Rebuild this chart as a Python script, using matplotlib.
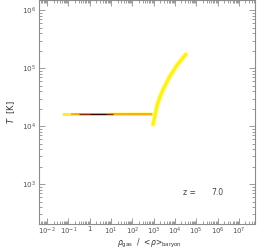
import numpy as np
import matplotlib
matplotlib.use('Agg')
import matplotlib.pyplot as plt
from matplotlib.ticker import LogLocator, NullFormatter

# isothermal plateau
T_plateau = 1.6e4
yellow_rho = [0.05, 1000]
orange_rho = [0.13, 1000]
dark_rho = [0.3, 12]
core_rho = [1.0, 6]
band_rho = [8, 1000]
band_lo = [1.6e4, 1.6e4]
band_hi = [1.78e4, 1.8e4]

# shocked / heated branch
branch_rho = [930, 1480, 2570, 5250, 13200, 32400]
branch_T = [1.07e4, 2.4e4, 4.07e4, 6.9e4, 1.17e5, 1.74e5]

redshift = 7.0

fig = plt.figure(figsize=(2.57, 2.49), dpi=100)
ax = fig.add_axes([0.152, 0.1, 0.84, 0.898])
ax.set_xscale('log')
ax.set_yscale('log')
ax.set_xlim(10**-2.38, 10**7.75)
ax.set_ylim(10**2.31, 10**6.17)

ax.fill_between(band_rho, band_lo, band_hi, color='#ffffb0', lw=0)
ax.plot(yellow_rho, [T_plateau]*2, color='#ffee30', lw=2.2, solid_capstyle='butt')
ax.plot(orange_rho, [T_plateau]*2, color='#ff9a00', lw=1.1, solid_capstyle='butt')
ax.plot(dark_rho, [T_plateau]*2, color='#8a2a00', lw=0.9, solid_capstyle='butt')
ax.plot(core_rho, [T_plateau]*2, color='#2a0800', lw=0.7, solid_capstyle='butt')

ax.plot(branch_rho, branch_T, color='#ffffa0', lw=4.0, solid_capstyle='round')
ax.plot(branch_rho, branch_T, color='#ffee20', lw=2.3, solid_capstyle='round')

grey = '#8c8c8c'
for s in ax.spines.values():
    s.set_color(grey)
    s.set_linewidth(0.8)

ax.xaxis.set_major_locator(LogLocator(base=10, numticks=20))
ax.xaxis.set_minor_locator(LogLocator(base=10, subs=np.arange(2, 10), numticks=20))
ax.yaxis.set_major_locator(LogLocator(base=10, numticks=20))
ax.yaxis.set_minor_locator(LogLocator(base=10, subs=np.arange(2, 10), numticks=20))
ax.xaxis.set_minor_formatter(NullFormatter())
ax.yaxis.set_minor_formatter(NullFormatter())

xt = [1e-2, 1e-1, 1, 10, 1e2, 1e3, 1e4, 1e5, 1e6, 1e7]
xl = [r'$10^{-2}$', r'$10^{-1}$', '1', r'$10^{1}$', r'$10^{2}$', r'$10^{3}$',
      r'$10^{4}$', r'$10^{5}$', r'$10^{6}$', r'$10^{7}$']
ax.set_xticks(xt)
ax.set_xticklabels(xl)
yt = [1e3, 1e4, 1e5, 1e6]
ax.set_yticks(yt)
ax.set_yticklabels([r'$10^{3}$', r'$10^{4}$', r'$10^{5}$', r'$10^{6}$'])

ax.tick_params(which='both', direction='in', top=True, right=True,
               color=grey, labelcolor='#555555', labelsize=5.2, width=0.6)
ax.tick_params(which='major', length=4, pad=2)
ax.tick_params(which='minor', length=2)
ax.tick_params(axis='x', which='major', pad=1.5, labelsize=5.0)

ax.set_xlabel(r'$\rho_{\rm gas}$  /  <$\rho$>$_{\rm baryon}$', fontsize=5.5,
              color='#333333')
ax.xaxis.set_label_coords(0.51, -0.058)
ax.set_ylabel(r'$T$  [K]', fontsize=6, color='#333333', labelpad=4)

ax.text(0.665, 0.13, 'z =', transform=ax.transAxes, fontsize=5.5, color='#444444')
ax.text(0.8, 0.13, '%.1f' % redshift, transform=ax.transAxes, fontsize=5.5, color='#444444')

fig.savefig('out.png', dpi=100)
